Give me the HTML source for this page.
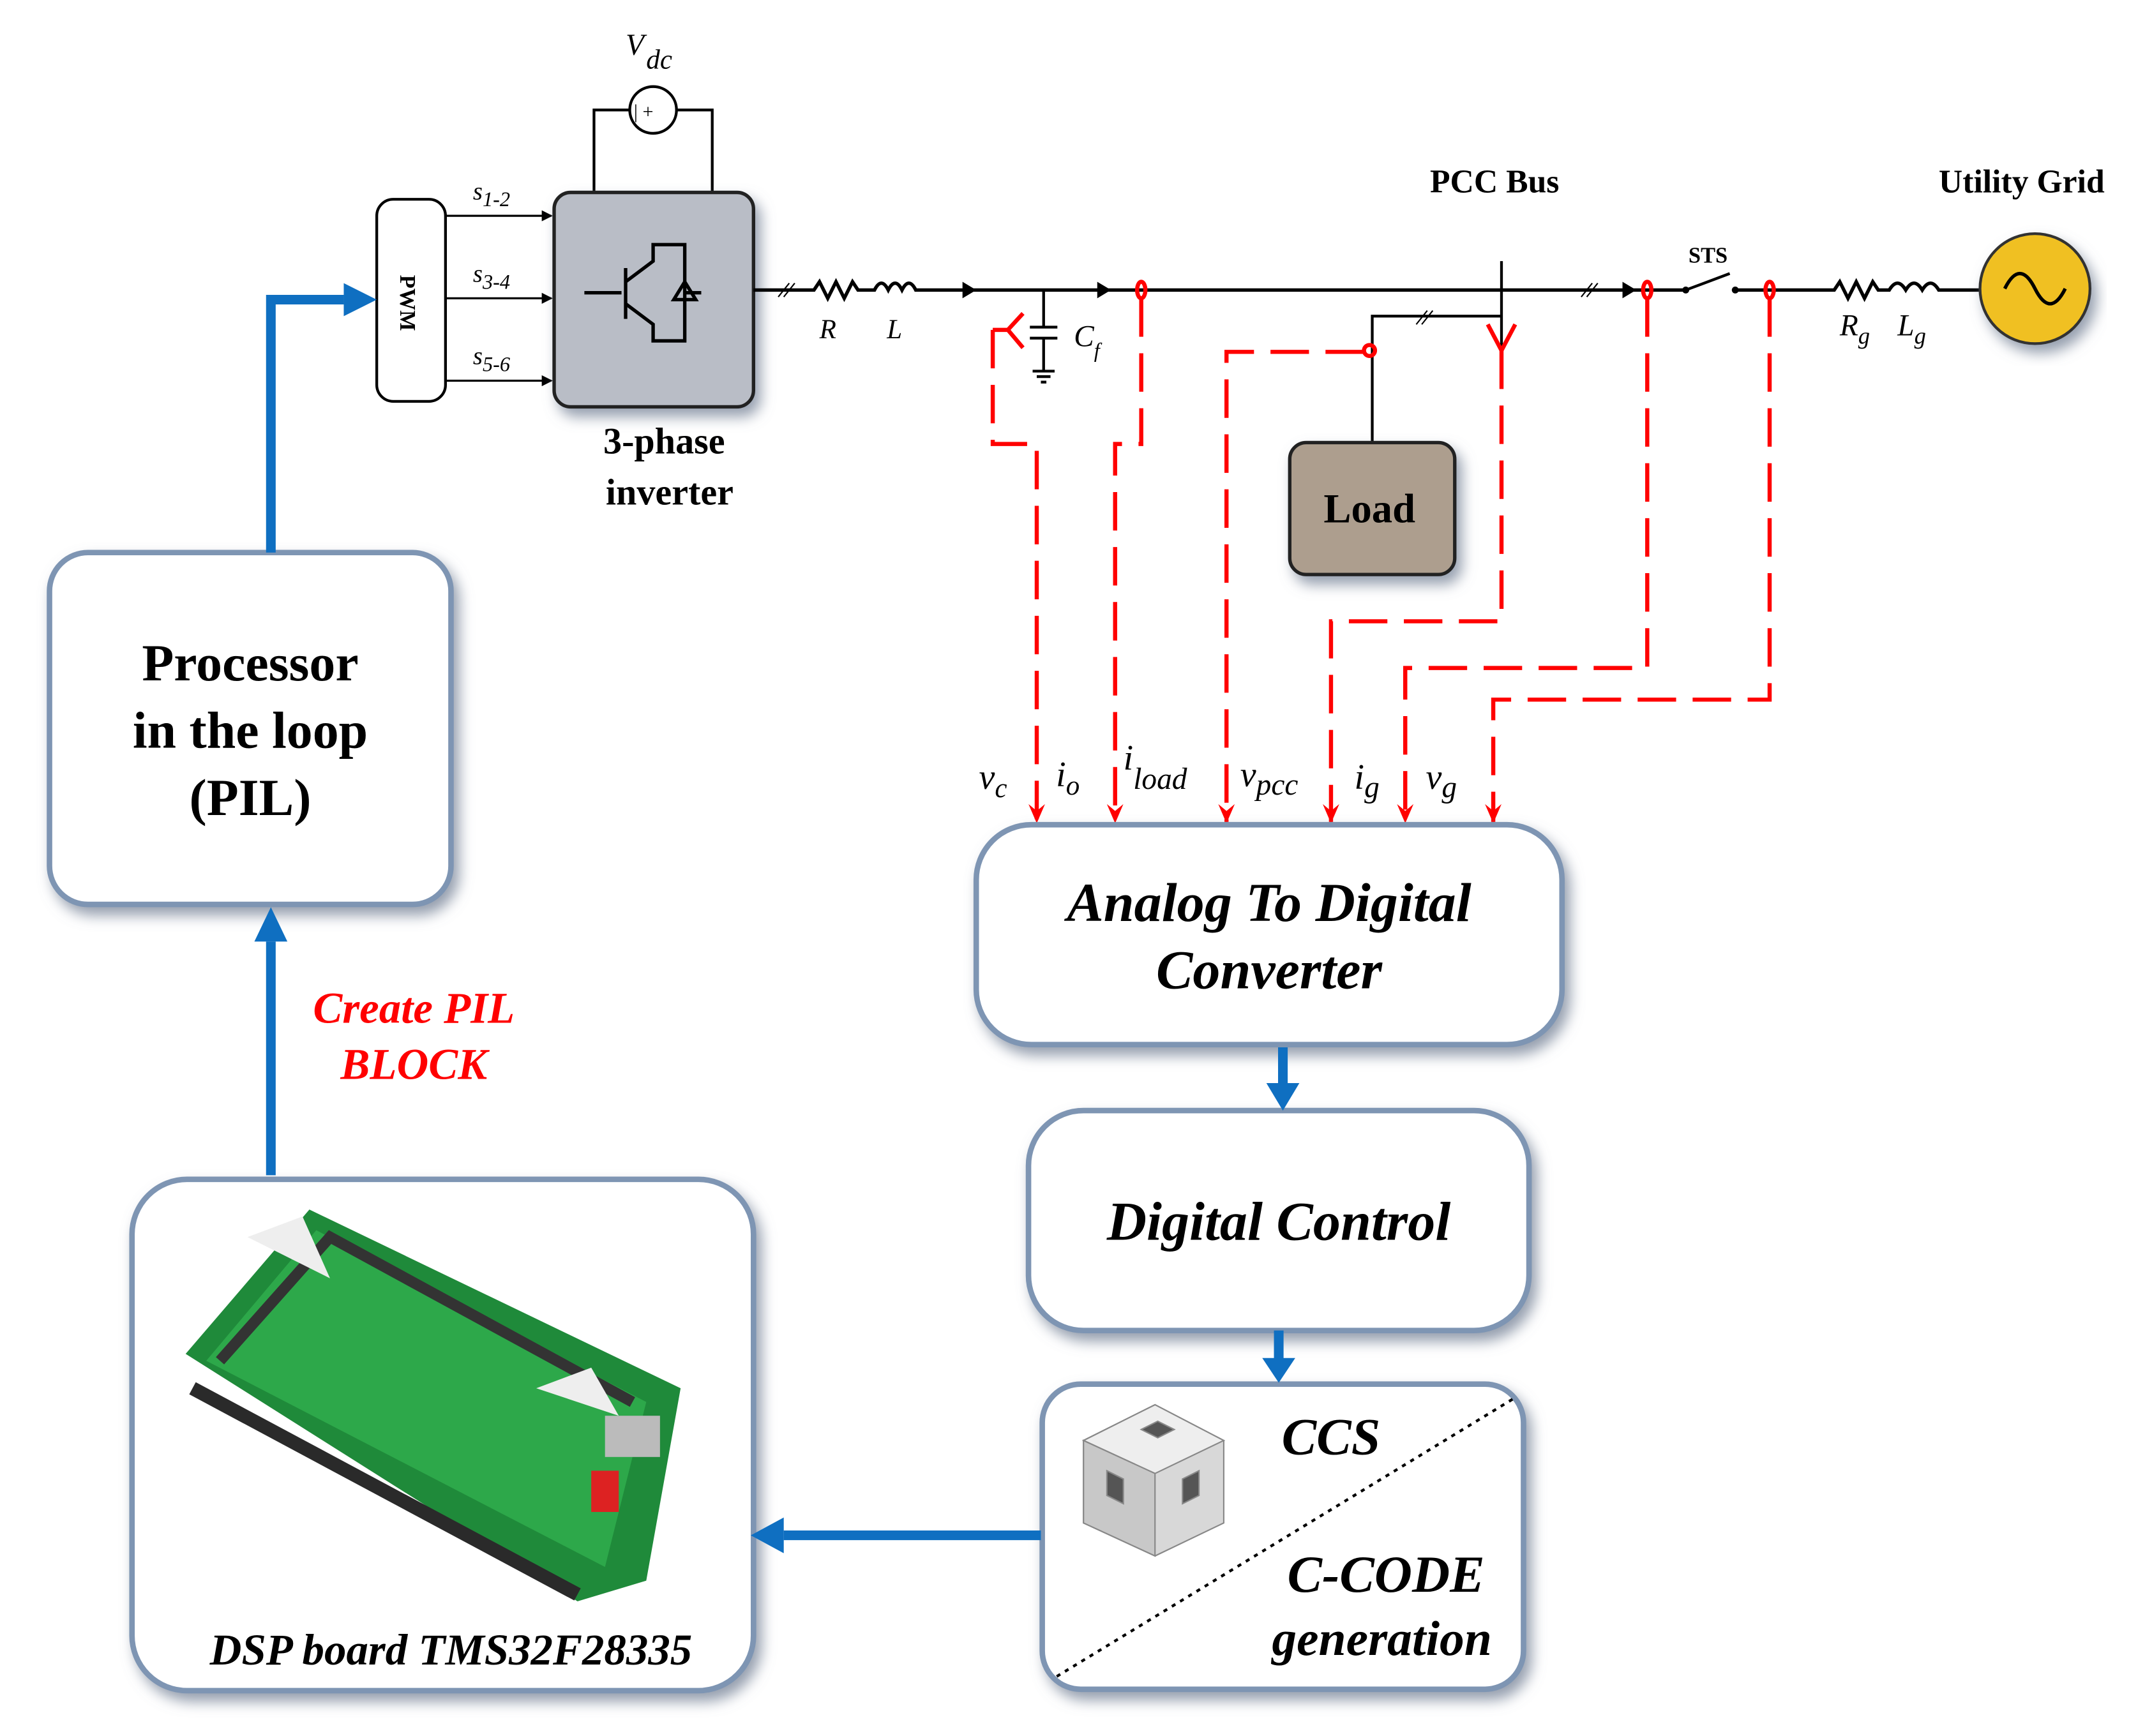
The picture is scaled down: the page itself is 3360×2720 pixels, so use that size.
<!DOCTYPE html>
<html><head><meta charset="utf-8"><style>
html,body{margin:0;padding:0;background:#fff;}
svg{display:block;}
text{font-family:"Liberation Serif",serif;}
</style></head><body>
<svg width="3360" height="2720" viewBox="0 0 1560 1263" preserveAspectRatio="none" xmlns="http://www.w3.org/2000/svg">
<defs>
<filter id="sh" x="-10%" y="-10%" width="125%" height="130%"><feDropShadow dx="4" dy="6" stdDeviation="5" flood-color="#7a869a" flood-opacity="0.8"/></filter>
<marker id="ab" markerWidth="8" markerHeight="8" refX="7" refY="4" orient="auto" markerUnits="userSpaceOnUse"><path d="M0,0 L8,4 L0,8 z" fill="#000"/></marker>
<marker id="ar" markerWidth="12" markerHeight="14" refX="6" refY="13" orient="0" markerUnits="userSpaceOnUse"><path d="M0,0 L6,14 L12,0 L6,5 z" fill="#f00"/></marker>
</defs>

<!-- Vdc -->
<text x="455" y="40" font-size="22" font-style="italic">V</text><text x="470" y="50" font-size="20" font-style="italic">dc</text>
<path d="M432,140 V80 H458 M492,80 H518 V140" stroke="#000" stroke-width="2" fill="none"/>
<circle cx="475" cy="80" r="17" fill="#fff" stroke="#000" stroke-width="2"/>
<text x="461" y="86" font-size="14">| +</text>

<!-- PWM -->
<rect x="274" y="145" width="50" height="147" rx="12" fill="#fff" stroke="#000" stroke-width="2"/>
<text x="291" y="200" font-size="16" font-weight="bold" transform="rotate(90 291 200)">PWM</text>
<line x1="324" y1="157" x2="401" y2="157" stroke="#000" stroke-width="1.5" marker-end="url(#ab)"/>
<line x1="324" y1="217" x2="401" y2="217" stroke="#000" stroke-width="1.5" marker-end="url(#ab)"/>
<line x1="324" y1="277" x2="401" y2="277" stroke="#000" stroke-width="1.5" marker-end="url(#ab)"/>
<text x="344" y="145" font-size="18" font-style="italic">s<tspan font-size="15" dy="5">1-2</tspan></text>
<text x="344" y="205" font-size="18" font-style="italic">s<tspan font-size="15" dy="5">3-4</tspan></text>
<text x="344" y="265" font-size="18" font-style="italic">s<tspan font-size="15" dy="5">5-6</tspan></text>

<!-- Inverter -->
<rect x="403" y="140" width="145" height="156" rx="12" fill="#b9bdc6" stroke="#222" stroke-width="2.5" filter="url(#sh)"/>
<path d="M425,213 H452 M455,195 V232 M455,205 L475,190 V178 H498 V248 H475 V236 L455,221 M498,213 H510 M490,218 L498,205 L506,218 z" stroke="#000" stroke-width="2.5" fill="none"/>
<text x="483" y="330" font-size="27" font-weight="bold" text-anchor="middle">3-phase</text>
<text x="487" y="367" font-size="27" font-weight="bold" text-anchor="middle">inverter</text>

<!-- main line -->
<path d="M548,211 H592 l4,-6 6,12 6,-12 6,12 6,-12 4,6 H636 q5,-10 10,0 q5,-10 10,0 q5,-10 10,0 H1227 M1262,211 H1334 l4,-6 6,12 6,-12 6,12 6,-12 4,6 H1374 q6,-10 12,0 q6,-10 12,0 q6,-10 12,0 H1442" stroke="#000" stroke-width="2.5" fill="none"/>
<path d="M1226,211 L1258,199" stroke="#000" stroke-width="2"/>
<circle cx="1226" cy="211" r="2.5"/><circle cx="1262" cy="211" r="2.5"/>
<text x="1228" y="191" font-size="16" font-weight="bold">STS</text>
<path d="M700,205 l10,6 -10,6z M798,205 l10,6 -10,6z M1180,205 l10,6 -10,6z"/>
<path d="M566,216 l8,-10 M570,216 l8,-10 M1150,216 l8,-10 M1154,216 l8,-10" stroke="#000" stroke-width="1"/>
<text x="596" y="246" font-size="20" font-style="italic">R</text><text x="645" y="246" font-size="20" font-style="italic">L</text>
<text x="1338" y="244" font-size="22" font-style="italic">R<tspan font-size="17" dy="6">g</tspan></text>
<text x="1380" y="244" font-size="22" font-style="italic">L<tspan font-size="17" dy="6">g</tspan></text>
<!-- Cf -->
<path d="M759,211 V238 M749,238 H769 M749,246 H769 M759,246 V270 M751,270 H767 M754,274 H764 M757,278 H761" stroke="#000" stroke-width="2" fill="none"/>
<text x="781" y="252" font-size="22" font-style="italic">C<tspan font-size="15" dy="8">f</tspan></text>
<!-- PCC bus -->
<path d="M1092,190 V255 M1092,230 H998 V322" stroke="#000" stroke-width="2" fill="none"/>
<path d="M1030,236 l8,-10 M1034,236 l8,-10" stroke="#000" stroke-width="1"/>
<text x="1040" y="140" font-size="24" font-weight="bold">PCC Bus</text>
<text x="1410" y="140" font-size="24" font-weight="bold">Utility Grid</text>
<!-- Grid -->
<circle cx="1480" cy="210" r="40" fill="#f0c020" stroke="#333" stroke-width="2" filter="url(#sh)"/>
<path d="M1458,210 q11,-22 22,0 q11,22 22,0" stroke="#000" stroke-width="2.5" fill="none"/>
<!-- Load -->
<rect x="938" y="322" width="120" height="96" rx="12" fill="#ad9e8e" stroke="#222" stroke-width="2.5" filter="url(#sh)"/>
<text x="996" y="380" font-size="30" font-weight="bold" text-anchor="middle">Load</text>

<!-- red sensors -->
<g stroke="#f00" stroke-width="3" fill="none">
<ellipse cx="830" cy="211" rx="3" ry="6"/><ellipse cx="1198" cy="211" rx="3" ry="6"/><ellipse cx="1287" cy="211" rx="3" ry="6"/>
<circle cx="996" cy="255" r="4"/>
<path d="M744,228 L733,240 L744,253 M733,240 H722 M1082,236 L1092,255 L1102,236"/>
<g stroke-dasharray="28,12">
<path d="M722,240 V323 H754 V598" marker-end="url(#ar)"/>
<path d="M830,217 V323 H811 V598" marker-end="url(#ar)"/>
<path d="M992,256 H892 V598" marker-end="url(#ar)"/>
<path d="M1092,255 V452 H968 V598" marker-end="url(#ar)"/>
<path d="M1198,217 V486 H1022 V598" marker-end="url(#ar)"/>
<path d="M1287,217 V509 H1086 V598" marker-end="url(#ar)"/>
</g>
</g>
<g font-size="26" font-style="italic">
<text x="712" y="574">v<tspan font-size="20" dy="6">c</tspan></text>
<text x="768" y="572">i<tspan font-size="20" dy="6">o</tspan></text>
<text x="817" y="560">i<tspan font-size="22" dy="14">load</tspan></text>
<text x="902" y="572">v<tspan font-size="22" dy="6">pcc</tspan></text>
<text x="985" y="574">i<tspan font-size="22" dy="6">g</tspan></text>
<text x="1037" y="574">v<tspan font-size="22" dy="6">g</tspan></text>
</g>

<!-- boxes -->
<g fill="#fff" stroke="#7e95b3" stroke-width="4" filter="url(#sh)">
<rect x="36" y="402" width="292" height="256" rx="28"/>
<rect x="710" y="600" width="426" height="160" rx="40"/>
<rect x="748" y="808" width="364" height="160" rx="40"/>
<rect x="758" y="1007" width="350" height="222" rx="28"/>
<rect x="96" y="858" width="452" height="372" rx="40"/>
</g>
<g font-weight="bold" text-anchor="middle">
<text x="182" y="495" font-size="38">Processor</text>
<text x="182" y="544" font-size="38">in the loop</text>
<text x="182" y="593" font-size="38">(PIL)</text>
<text x="923" y="670" font-size="40" font-style="italic">Analog To Digital</text>
<text x="923" y="719" font-size="40" font-style="italic">Converter</text>
<text x="930" y="902" font-size="40" font-style="italic">Digital Control</text>
<text x="968" y="1058" font-size="38" font-style="italic">CCS</text>
<text x="1008" y="1158" font-size="38" font-style="italic">C-CODE</text>
<text x="1005" y="1204" font-size="36" font-style="italic">generation</text>
<text x="328" y="1211" font-size="32" font-style="italic">DSP board TMS32F28335</text>
<text x="301" y="744" font-size="32" font-style="italic" fill="#f00">Create PIL</text>
<text x="301" y="785" font-size="32" font-style="italic" fill="#f00">BLOCK</text>
</g>
<line x1="1100" y1="1018" x2="768" y2="1220" stroke="#000" stroke-width="2" stroke-dasharray="3,4"/>
<!-- cube -->
<g stroke="#888" stroke-width="1">
<path d="M840,1022 L890,1048 V1108 L840,1132 L788,1108 V1048 z" fill="#d8d8d8"/>
<path d="M840,1022 L890,1048 L840,1072 L788,1048 z" fill="#eee"/>
<path d="M840,1072 V1132 L788,1108 V1048z" fill="#c8c8c8"/>
<path d="M830,1040 l12,-6 12,6 -12,6z" fill="#555"/>
<path d="M805,1070 l12,6 v18 l-12,-6z M860,1076 l12,-6 v18 l-12,6z" fill="#555"/>
</g>
<!-- DSP board image approximation -->
<g>
<path d="M135,985 L225,880 L495,1010 L470,1150 L420,1165 z" fill="#1f8a3a"/>
<path d="M150,990 L230,895 L470,1020 L440,1140 z" fill="#2da84a"/>
<path d="M160,990 L240,900 L460,1020" stroke="#333" stroke-width="8" fill="none"/>
<path d="M140,1010 L420,1160" stroke="#2a2a2a" stroke-width="10"/>
<rect x="430" y="1070" width="20" height="30" fill="#d22"/>
<rect x="440" y="1030" width="40" height="30" fill="#bbb"/>
<path d="M180,900 l40,-15 20,45z M390,1010 l40,-15 20,35z" fill="#eee"/>
</g>

<!-- blue arrows -->
<g stroke="#0f6fc1" stroke-width="7" fill="none">
<path d="M197,402 V218 H250"/>
<path d="M197,855 V685"/>
<path d="M933,762 V790"/>
<path d="M930,968 V990"/>
<path d="M757,1117 H570"/>
</g>
<g fill="#0f6fc1">
<path d="M250,206 L274,218 L250,230z"/>
<path d="M185,685 L197,660 L209,685z"/>
<path d="M921,788 L933,808 L945,788z"/>
<path d="M918,988 L930,1006 L942,988z"/>
<path d="M570,1104 L546,1117 L570,1130z"/>
</g>
</svg>
</body></html>
